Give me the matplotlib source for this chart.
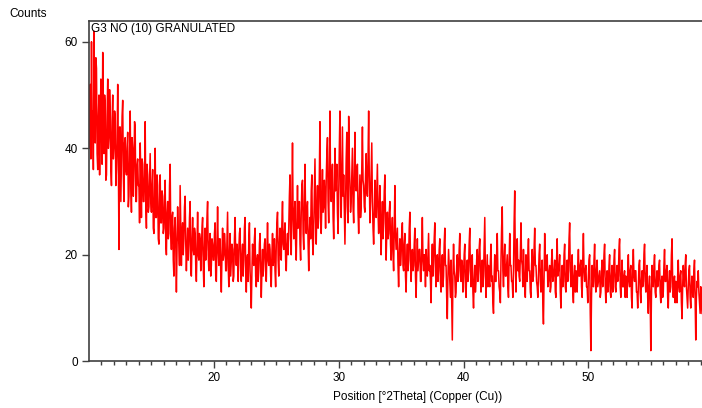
import numpy as np
import matplotlib
matplotlib.use("Agg")
import matplotlib.pyplot as plt

plt.rcParams['font.family'] = ['Liberation Sans', 'DejaVu Sans']

title_text = "G3 NO (10) GRANULATED"
y_label = "Counts"
x_label = "Position [\u00b02Theta] (Copper (Cu))"

start_2theta = 10.0
step_2theta = 0.05

counts = [
    48, 40, 52, 38, 60, 44, 47, 36, 62, 50, 41, 57, 55, 39, 36, 46, 50, 35, 43, 53,
    44, 37, 58, 42, 39, 50, 48, 34, 35, 46, 53, 40, 42, 51, 47, 36, 33, 45, 50, 38,
    40, 47, 46, 33, 36, 41, 52, 38, 21, 44, 44, 30, 38, 46, 49, 35, 30, 41, 42, 36,
    35, 40, 43, 29, 31, 38, 47, 33, 28, 42, 40, 31, 36, 45, 44, 30, 30, 37, 38, 33,
    33, 26, 41, 35, 27, 38, 37, 30, 30, 35, 45, 29, 25, 37, 35, 28, 29, 34, 39, 30,
    28, 33, 36, 25, 24, 31, 40, 27, 27, 35, 33, 23, 22, 30, 35, 26, 26, 32, 31, 24,
    25, 30, 34, 22, 20, 28, 30, 23, 24, 33, 37, 24, 21, 27, 28, 19, 16, 25, 27, 22,
    13, 21, 29, 24, 22, 18, 33, 26, 18, 24, 26, 20, 23, 29, 31, 22, 17, 21, 25, 19,
    22, 27, 30, 17, 16, 23, 27, 21, 20, 25, 24, 18, 15, 22, 28, 20, 19, 24, 23, 17,
    20, 25, 27, 18, 14, 21, 25, 19, 21, 27, 30, 20, 17, 22, 24, 16, 18, 23, 22, 19,
    19, 24, 26, 16, 15, 22, 29, 21, 18, 23, 23, 17, 13, 20, 25, 19, 20, 24, 22, 17,
    17, 23, 28, 18, 14, 20, 24, 16, 19, 22, 21, 15, 16, 23, 27, 20, 18, 22, 20, 15,
    21, 24, 25, 17, 15, 20, 22, 16, 19, 25, 27, 18, 13, 19, 20, 15, 23, 26, 17, 14,
    10, 17, 22, 19, 18, 23, 25, 16, 14, 19, 20, 15, 17, 22, 24, 18, 12, 17, 21, 16,
    19, 22, 23, 17, 15, 21, 26, 19, 18, 22, 21, 16, 14, 20, 24, 18, 20, 23, 17, 14,
    22, 26, 28, 19, 16, 22, 25, 20, 19, 26, 30, 22, 21, 24, 26, 19, 17, 22, 24, 20,
    25, 31, 35, 23, 20, 30, 41, 27, 23, 28, 30, 22, 19, 26, 33, 25, 26, 30, 22, 19,
    28, 33, 34, 24, 21, 29, 37, 27, 24, 28, 30, 22, 17, 24, 27, 23, 32, 35, 23, 20,
    25, 31, 38, 27, 22, 29, 33, 25, 27, 35, 45, 30, 24, 30, 36, 28, 29, 34, 31, 25,
    34, 39, 42, 30, 26, 35, 47, 33, 30, 34, 37, 27, 23, 31, 40, 32, 33, 37, 28, 24,
    31, 40, 47, 33, 27, 36, 44, 31, 35, 29, 22, 30, 38, 43, 29, 26, 46, 38, 33, 28,
    30, 35, 40, 29, 26, 35, 43, 33, 32, 36, 37, 28, 24, 30, 35, 27, 29, 37, 44, 34,
    33, 29, 28, 35, 39, 32, 31, 38, 47, 35, 26, 30, 36, 41, 30, 25, 22, 28, 34, 30,
    27, 32, 37, 28, 24, 29, 33, 25, 20, 26, 30, 23, 26, 32, 35, 27, 19, 24, 28, 23,
    24, 28, 30, 22, 19, 24, 27, 20, 17, 25, 33, 24, 21, 23, 25, 18, 14, 20, 23, 18,
    20, 24, 26, 18, 17, 22, 24, 16, 13, 19, 22, 17, 19, 25, 28, 19, 15, 19, 21, 17,
    18, 22, 25, 16, 12, 18, 23, 17, 19, 21, 21, 15, 15, 21, 27, 19, 17, 20, 20, 14,
    21, 17, 16, 20, 24, 17, 18, 15, 11, 18, 22, 16, 19, 23, 26, 17, 14, 19, 20, 15,
    17, 21, 23, 15, 13, 18, 20, 14, 16, 22, 25, 18, 18, 12, 8, 16, 21, 18, 15, 12,
    19, 12, 4, 16, 22, 17, 16, 12, 13, 18, 20, 15, 17, 21, 24, 16, 15, 19, 18, 13,
    16, 20, 22, 14, 12, 17, 19, 15, 17, 22, 25, 17, 14, 18, 20, 13, 10, 15, 18, 13,
    15, 19, 21, 15, 17, 21, 23, 16, 13, 17, 19, 14, 16, 22, 27, 17, 12, 16, 20, 14,
    18, 15, 14, 19, 22, 15, 16, 11, 9, 16, 20, 15, 15, 20, 24, 17, 17, 14, 13, 11,
    19, 25, 29, 17, 14, 19, 22, 16, 16, 18, 20, 14, 12, 19, 24, 18, 18, 15, 15, 12,
    17, 26, 32, 18, 13, 19, 23, 17, 19, 16, 15, 20, 26, 19, 18, 14, 21, 17, 14, 12,
    20, 16, 15, 20, 23, 17, 17, 13, 12, 18, 21, 15, 16, 21, 25, 18, 18, 15, 14, 12,
    16, 20, 22, 15, 13, 17, 19, 11, 7, 16, 24, 18, 17, 19, 20, 14, 15, 17, 18, 13,
    14, 19, 21, 15, 16, 17, 19, 13, 12, 19, 23, 16, 17, 18, 20, 13, 10, 15, 18, 14,
    15, 20, 22, 14, 13, 16, 19, 15, 17, 23, 26, 17, 14, 18, 20, 13, 11, 16, 18, 13,
    17, 14, 13, 18, 21, 16, 16, 18, 19, 14, 12, 19, 24, 17, 15, 17, 18, 14, 14, 11,
    16, 19, 20, 9, 2, 12, 18, 15, 14, 19, 22, 15, 13, 17, 19, 14, 15, 16, 17, 12,
    13, 17, 19, 14, 16, 20, 22, 14, 11, 15, 17, 13, 14, 18, 20, 13, 12, 16, 18, 13,
    15, 19, 21, 14, 13, 16, 18, 15, 16, 21, 23, 14, 12, 16, 19, 14, 14, 16, 17, 12,
    16, 13, 12, 17, 20, 15, 14, 17, 18, 12, 10, 17, 21, 16, 15, 17, 17, 13, 13, 10,
    14, 18, 19, 13, 11, 15, 17, 14, 15, 20, 22, 15, 13, 16, 18, 12, 9, 14, 16, 12,
    2, 12, 18, 15, 14, 18, 20, 13, 12, 15, 17, 14, 15, 18, 19, 13, 11, 15, 16, 12,
    13, 18, 21, 15, 15, 17, 18, 12, 10, 15, 17, 13, 14, 20, 23, 15, 12, 15, 16, 11,
    15, 12, 11, 16, 19, 14, 13, 16, 17, 11, 8, 14, 18, 15, 14, 18, 20, 14, 12, 10,
    14, 17, 18, 12, 10, 14, 16, 13, 12, 17, 19, 11, 4, 12, 15, 14, 17, 13, 11, 9,
    14, 11, 9,
]

x_ticks = [20, 30, 40, 50]
y_ticks = [0, 20, 40, 60]

two_theta = start_2theta + step_2theta * np.arange(len(counts))

fig = plt.figure(figsize=(7.02, 4.08), dpi=100)
ax = fig.add_axes([89 / 702, 1 - 361.3 / 408, 1 - 89 / 702, (361.3 - 21) / 408])

ax.plot(two_theta, counts, color='#ff0000', linewidth=1.1)

ax.set_xlim(10, 59.1)
ax.set_ylim(0, 63.9)
ax.set_xticks(x_ticks)
ax.set_xticks(np.arange(11, 60, 1), minor=True)
ax.set_yticks(y_ticks)

for s in ['left', 'bottom', 'top']:
    ax.spines[s].set_color('#404040')
    ax.spines[s].set_linewidth(1.2)
ax.spines['right'].set_visible(False)

ax.tick_params(axis='both', which='major', direction='out', length=5, width=1,
               color='#404040', labelsize=8.5, pad=3)
ax.tick_params(axis='x', which='minor', direction='out', length=3, width=1,
               color='#404040')

ax.text(0.004, 0.995, title_text, transform=ax.transAxes, ha='left', va='top',
        fontsize=8.5, color='black')
fig.text(9 / 702, 1 - 14 / 408, y_label, ha='left', va='center', fontsize=8.5)
fig.text(418 / 702, 1 - 397 / 408, x_label, ha='center', va='center', fontsize=8.5)

fig.savefig('out.png', dpi=100)
